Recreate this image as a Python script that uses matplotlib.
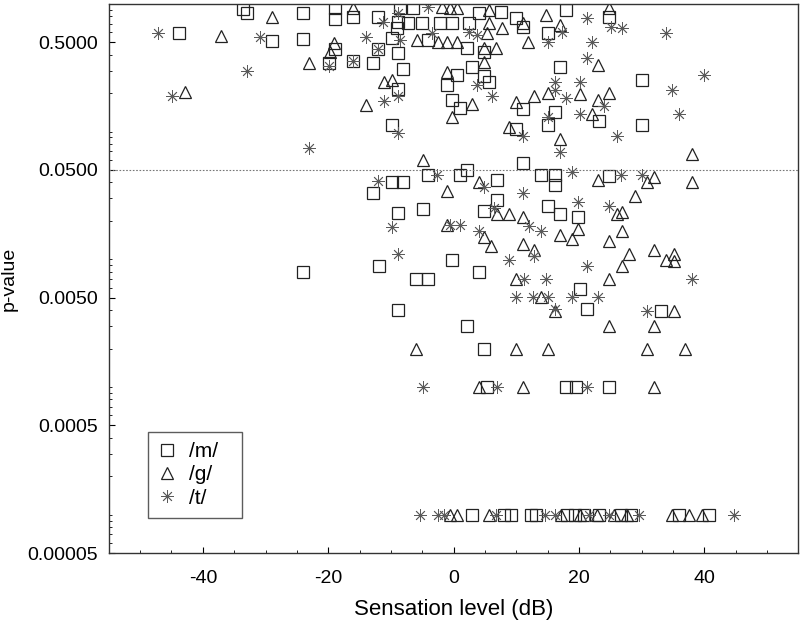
import matplotlib
matplotlib.use("Agg")
import matplotlib.pyplot as plt
from matplotlib.ticker import FixedLocator, FixedFormatter

plt.rcParams['font.family'] = ['Liberation Sans', 'DejaVu Sans']
plt.rcParams['axes.unicode_minus'] = False

# /m/ (squares): sensation level (dB) and p-value
m_db = [-33.6, -32.9, -24.0, -18.9, -18.9, -16.1, -12.1, -43.8, -29.0, -24.0,
        -18.9, -12.1, -8.9, -19.9, -16.1, -12.9, -8.0, -8.9, -9.9, -8.6,
        -8.9, -9.1, -7.3, -5.1, -2.2, -9.9, -4.1, 2.2, 2.5, -0.3,
        4.1, 7.6, 4.9, 0.5, -1.0, 2.9, 4.9, 5.7, -0.2, -6.5,
        10.0, 11.0, 18.0, 15.0, 24.8, 1.0, 16.9, 11.1, 16.1, 15.0,
        23.2, 30.1, 30.1, 10.0, 11.1, 2.1,
        -9.9, -8.0, -12.9, -8.9, -4.9, -24.0, -11.9, -6.0, -4.1, -8.9,
        -4.1, 1.0, 7.0, 14.0, 16.1, 16.1, 24.8, 7.0, 4.9, 15.0,
        16.9, 19.9, -0.2, 4.1, 20.1, 21.2, 33.1, 2.1, 4.9,
        5.4, 18.0, 19.6, 24.8,
        3.0, 8.1, 9.2, 12.4, 13.2, 18.1, 19.3, 20.8, 23.2, 26.7, 28.3, 36.0, 40.7]
m_p = [0.914, 0.850, 0.850, 0.930, 0.764, 0.792, 0.792, 0.594, 0.514, 0.533,
       0.445, 0.445, 0.414, 0.346, 0.358, 0.346, 0.311, 0.217, 0.112, 0.930,
       0.723, 0.649, 0.711, 0.711, 0.711, 0.543, 0.523, 0.453, 0.711, 0.711,
       0.850, 0.866, 0.422, 0.279, 0.233, 0.322, 0.274, 0.246, 0.178, 0.930,
       0.777, 0.661, 0.898, 0.594, 0.792, 0.154, 0.322, 0.149, 0.143, 0.112,
       0.120, 0.255, 0.112, 0.104, 0.057, 0.050,
       0.040, 0.040, 0.033, 0.0229, 0.0247, 0.0079, 0.0089, 0.0070, 0.0070, 0.0040,
       0.046, 0.046, 0.042, 0.046, 0.046, 0.038, 0.045, 0.029, 0.0237, 0.026,
       0.0225, 0.0213, 0.0099, 0.0079, 0.0058, 0.0041, 0.0039, 0.0030, 0.0020,
       0.001, 0.001, 0.001, 0.001,
       0.0001, 0.0001, 0.0001, 0.0001, 0.0001, 0.0001, 0.0001, 0.0001, 0.0001, 0.0001, 0.0001, 0.0001, 0.0001]

# /g/ (triangles)
g_db = [-29.0, -16.1, -37.1, -19.1, -19.7, -23.1, -11.1, -9.9, -42.8, -14.0,
        -4.9, -1.9, -0.6, 0.6, -5.9, -2.5, -1.0, 0.6, 5.7, 5.3,
        4.9, 6.8, 4.9, -1.1, 2.9, 5.7, 7.8, 11.0, 11.8, 14.8,
        16.9, 24.8, 23.1, -0.2, 12.9, 10.0, 15.0, 20.1, 22.0, 23.1,
        24.8, 8.9, 16.9, 38.0,
        -1.0, 4.1, 23.1, 30.9, 32.0, 38.0, 7.0, 8.9, 26.1, 26.9,
        29.0, -1.0, 11.0, 19.9, 16.9, 18.9, 26.9, 4.9, 6.0, 11.0,
        12.9, 24.8, 28.0, 32.0, 33.9, 35.2, 35.2, 26.9, 10.0, 24.8,
        14.0, 16.1, 35.2, 24.8, 32.0, -6.0, 10.0, 15.0, 30.9, 36.9,
        4.1, 11.0, 32.0,
        -0.6, 0.5, 5.7, 17.2, 20.1, 22.9, 25.6, 27.7, 34.9, 37.6, 39.6]
g_p = [0.792, 0.930, 0.563, 0.496, 0.422, 0.346, 0.246, 0.255, 0.205, 0.160,
       0.060, 0.947, 0.930, 0.930, 0.523, 0.505, 0.505, 0.505, 0.711, 0.594,
       0.453, 0.453, 0.352, 0.294, 0.163, 0.898, 0.649, 0.711, 0.505, 0.820,
       0.685, 0.930, 0.334, 0.131, 0.188, 0.169, 0.202, 0.195, 0.136, 0.178,
       0.202, 0.108, 0.087, 0.067,
       0.034, 0.040, 0.042, 0.040, 0.044, 0.040, 0.0225, 0.0225, 0.0225, 0.0233,
       0.031, 0.0187, 0.0213, 0.0171, 0.0156, 0.0143, 0.0165, 0.0149, 0.0126, 0.0131,
       0.0119, 0.0138, 0.0109, 0.0119, 0.0099, 0.0109, 0.0097, 0.0089, 0.0070, 0.0070,
       0.0051, 0.0039, 0.0039, 0.0030, 0.0030, 0.0020, 0.0020, 0.0020, 0.0020, 0.0020,
       0.001, 0.001, 0.001,
       0.0001, 0.0001, 0.0001, 0.0001, 0.0001, 0.0001, 0.0001, 0.0001, 0.0001, 0.0001, 0.0001]

# /t/ (asterisks)
t_db = [-47.1, -30.9, -14.0, -11.3, -12.1, -16.1, -19.9, -32.9, -44.9, -11.1,
        -8.9, -8.8, -23.1, -8.9, -4.1, -3.5, -8.6, 2.5, 3.7, 3.7,
        6.2, 17.3, 15.0, 21.2, 25.1, 26.9, 22.0, 21.2, 33.9, 16.1,
        20.1, 16.1, 18.0, 20.1, 24.0, 15.0, 40.0, 34.9, 36.0, 11.0,
        16.9, 26.1,
        -12.1, -9.9, -8.9, -2.7, 4.9, 18.9, 26.7, 30.1, 11.0, 6.5,
        19.9, 24.8, -0.6, 1.0, 12.1, 14.0, 4.1, 8.9, 12.9, 21.2,
        11.3, 14.8, 38.0, 10.0, 12.6, 15.0, 18.9, 23.1, 16.1, 30.9,
        -4.9, 7.0, 21.2,
        -5.4, -2.5, -1.6, 6.8, 14.5, 16.1, 21.6, 24.8, 29.6, 44.7]
t_p = [0.594, 0.552, 0.552, 0.723, 0.445, 0.358, 0.328, 0.300, 0.188, 0.172,
       0.188, 0.098, 0.074, 0.850, 0.947, 0.594, 0.523, 0.604, 0.573, 0.233,
       0.188, 0.604, 0.505, 0.777, 0.661, 0.649, 0.505, 0.379, 0.594, 0.246,
       0.246, 0.213, 0.184, 0.136, 0.157, 0.131, 0.279, 0.213, 0.136, 0.092,
       0.069, 0.092,
       0.041, 0.0178, 0.0109, 0.046, 0.037, 0.048, 0.046, 0.046, 0.033, 0.025,
       0.028, 0.026, 0.0187, 0.0187, 0.0181, 0.0165, 0.0165, 0.0099, 0.0106, 0.0089,
       0.0070, 0.0070, 0.0070, 0.0051, 0.0051, 0.0051, 0.0051, 0.0051, 0.0041, 0.0039,
       0.001, 0.001, 0.001,
       0.0001, 0.0001, 0.0001, 0.0001, 0.0001, 0.0001, 0.0001, 0.0001, 0.0001, 0.0001]

y_ticks = [0.00005, 0.0005, 0.005, 0.05, 0.5]
y_tick_labels = ['0.00005', '0.0005', '0.0050', '0.0500', '0.5000']
x_ticks = [-40, -20, 0, 20, 40]
alpha_line = 0.05

fig = plt.figure(figsize=(8, 6.3), dpi=100)
ax = fig.add_axes([0.136, 0.122, 0.862, 0.872])

ax.plot(m_db, m_p, linestyle='none', marker='s', markersize=8.5,
        markerfacecolor='none', markeredgecolor='#222222', markeredgewidth=0.9, label='/m/')
ax.plot(g_db, g_p, linestyle='none', marker='^', markersize=9,
        markerfacecolor='none', markeredgecolor='#222222', markeredgewidth=0.9, label='/g/')
ax.plot(t_db, t_p, linestyle='none', marker=(8, 2, 0), markersize=9,
        color='#5a5a5a', markeredgewidth=0.6, label='/t/')

ax.axhline(alpha_line, color='#777777', linestyle=(0, (1.5, 1.5)), linewidth=0.8)

ax.set_yscale('log')
ax.set_ylim(0.00005, 1.0)
ax.set_xlim(-55, 55)

ax.yaxis.set_major_locator(FixedLocator(y_ticks))
ax.yaxis.set_major_formatter(FixedFormatter(y_tick_labels))
minor_y = [n * 10.0 ** k for k in range(-5, 1) for n in range(1, 10)]
minor_y = [v for v in minor_y if 0.00005 <= v <= 1.0 and not any(abs(v - t) < 1e-12 for t in y_ticks)]
ax.yaxis.set_minor_locator(FixedLocator(minor_y))
ax.yaxis.set_minor_formatter(FixedFormatter([''] * len(minor_y)))

ax.set_xticks(x_ticks)
ax.set_xticks(range(-50, 55, 5), minor=True)

ax.tick_params(which='major', direction='in', length=4, width=0.8, labelsize=14)
ax.tick_params(axis='y', which='major', pad=8)
ax.tick_params(axis='x', which='major', pad=12)
ax.tick_params(which='minor', direction='in', length=2, width=0.6)

for s in ax.spines.values():
    s.set_color('#333333')
    s.set_linewidth(1.0)

ax.set_xlabel('Sensation level (dB)', fontsize=16, labelpad=9)
ax.set_ylabel('p-value', fontsize=14)
ax.yaxis.set_label_coords(-0.132, 0.5)

leg = ax.legend(loc='lower left', bbox_to_anchor=(0.0565, 0.064, 0.136, 0.157),
                mode='expand', borderaxespad=0,
                frameon=True, fancybox=False, fontsize=15, handletextpad=0.7,
                handlelength=0.8, borderpad=0.5, labelspacing=0.2)
leg.get_frame().set_edgecolor('#333333')
leg.get_frame().set_linewidth(1.0)

fig.savefig('out.png', dpi=100)
